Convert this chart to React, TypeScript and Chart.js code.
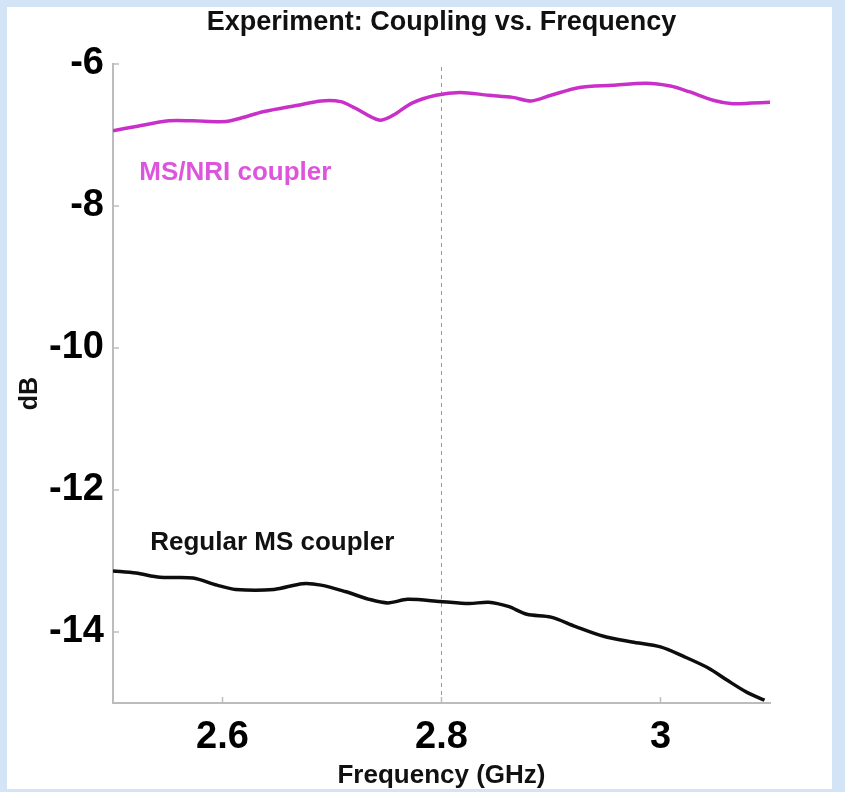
import React, { useEffect, useRef } from "react";
import { Chart, registerables } from "chart.js";

Chart.register(...registerables);

// ---- data ----
const msNriFreq = [2.500, 2.521, 2.551, 2.573, 2.603, 2.617, 2.638, 2.669, 2.690, 2.708, 2.721, 2.743, 2.756, 2.773, 2.795, 2.817, 2.843, 2.865, 2.882, 2.900, 2.926, 2.956, 2.987, 3.009, 3.026, 3.048, 3.066, 3.083, 3.100];
const msNriDb = [-6.94, -6.88, -6.80, -6.80, -6.81, -6.76, -6.67, -6.58, -6.52, -6.53, -6.62, -6.79, -6.72, -6.55, -6.44, -6.40, -6.44, -6.47, -6.52, -6.44, -6.33, -6.30, -6.27, -6.31, -6.39, -6.51, -6.56, -6.55, -6.54];

const regularFreq = [2.500, 2.521, 2.543, 2.573, 2.595, 2.612, 2.647, 2.673, 2.690, 2.712, 2.734, 2.751, 2.769, 2.799, 2.825, 2.843, 2.861, 2.878, 2.900, 2.922, 2.948, 2.974, 3.000, 3.022, 3.044, 3.061, 3.079, 3.095];
const regularDb = [-13.14, -13.17, -13.23, -13.24, -13.34, -13.40, -13.40, -13.32, -13.34, -13.43, -13.54, -13.59, -13.54, -13.57, -13.60, -13.58, -13.64, -13.75, -13.79, -13.92, -14.06, -14.14, -14.21, -14.35, -14.51, -14.68, -14.85, -14.96];

const markerFreq = [2.8, 2.8];
const markerDb = [-15, -6];

const xTicks = [2.6, 2.8, 3.0];
const yTicks = [-14, -12, -10, -8, -6];

const curveLabelText = ["MS/NRI coupler", "Regular MS coupler"];
const curveLabelFreq = [2.524, 2.534];
const curveLabelDb = [-7.634, -12.845];
const curveLabelColor = ["#dd55dd", "#111111"];

const TITLE = "Experiment: Coupling vs. Frequency";
const X_TITLE = "Frequency (GHz)";
const Y_TITLE = "dB";

const SANS = "'Liberation Sans', Arial, Helvetica, sans-serif";
const AXIS_GREY = "#bcbcbc";

const toPts = (xs: number[], ys: number[]) => xs.map((x, i) => ({ x, y: ys[i] }));

const extrasPlugin = {
  id: "extras",
  afterDraw(chart: any) {
    const { ctx, scales, chartArea } = chart;
    const xs = scales.x;
    const ys = scales.y;
    ctx.save();
    // inward tick marks
    ctx.strokeStyle = AXIS_GREY;
    ctx.lineWidth = 1.5;
    const left = chartArea.left;
    const bottom = chartArea.bottom;
    yTicks.forEach((v) => {
      const py = ys.getPixelForValue(v);
      ctx.beginPath();
      ctx.moveTo(left, py);
      ctx.lineTo(left + 6, py);
      ctx.stroke();
    });
    xTicks.forEach((v) => {
      const px = xs.getPixelForValue(v);
      ctx.beginPath();
      ctx.moveTo(px, bottom);
      ctx.lineTo(px, bottom - 6);
      ctx.stroke();
    });
    // curve labels
    ctx.font = `bold 26px ${SANS}`;
    ctx.textAlign = "left";
    ctx.textBaseline = "alphabetic";
    curveLabelText.forEach((t, i) => {
      ctx.fillStyle = curveLabelColor[i];
      ctx.fillText(t, xs.getPixelForValue(curveLabelFreq[i]), ys.getPixelForValue(curveLabelDb[i]));
    });
    // title centred over the plot area
    ctx.fillStyle = "#111";
    ctx.font = `bold 27px ${SANS}`;
    ctx.textAlign = "center";
    ctx.textBaseline = "middle";
    ctx.fillText(TITLE, (chartArea.left + chartArea.right) / 2, 23);
    // y axis title
    ctx.save();
    ctx.translate(30, (chartArea.top + chartArea.bottom) / 2 + 10);
    ctx.rotate(-Math.PI / 2);
    ctx.font = `bold 25px ${SANS}`;
    ctx.fillText(Y_TITLE, 0, 0);
    ctx.restore();
    ctx.restore();
  },
};

export default function App() {
  const ref = useRef<HTMLCanvasElement | null>(null);

  useEffect(() => {
    if (!ref.current) return;
    const chart = new Chart(ref.current, {
      type: "line",
      data: {
        datasets: [
          {
            label: "MS/NRI coupler",
            data: toPts(msNriFreq, msNriDb),
            borderColor: "#c930c9",
            borderWidth: 3.5,
            pointRadius: 0,
            tension: 0.3,
          },
          {
            label: "Regular MS coupler",
            data: toPts(regularFreq, regularDb),
            borderColor: "#0d0d0d",
            borderWidth: 3.5,
            pointRadius: 0,
            tension: 0.3,
          },
          {
            label: "2.8 GHz",
            data: toPts(markerFreq, markerDb),
            borderColor: "#9a9a9a",
            borderWidth: 1,
            borderDash: [4, 4],
            pointRadius: 0,
          },
        ],
      },
      options: {
        animation: false,
        responsive: false,
        devicePixelRatio: 1,
        layout: { padding: { left: 0, right: 75, top: 64, bottom: 0 } },
        plugins: {
          legend: { display: false },
          tooltip: { enabled: false },
          title: { display: false },
        },
        scales: {
          x: {
            type: "linear",
            min: 2.5,
            max: 3.1,
            afterBuildTicks: (s: any) => {
              s.ticks = xTicks.map((v) => ({ value: v }));
            },
            afterFit: (s: any) => {
              s.height = 89;
            },
            ticks: {
              color: "#000",
              padding: 12,
              font: { family: SANS, size: 38, weight: "bold" },
              callback: (v: any) => String(Number(v)),
            },
            grid: { display: false, drawTicks: false },
            border: { display: true, color: AXIS_GREY, width: 2 },
            title: {
              display: true,
              text: X_TITLE,
              color: "#111",
              font: { family: SANS, size: 26, weight: "bold" },
              padding: { top: 0, bottom: 1 },
            },
          },
          y: {
            type: "linear",
            min: -15,
            max: -6,
            afterBuildTicks: (s: any) => {
              s.ticks = yTicks.map((v) => ({ value: v }));
            },
            afterFit: (s: any) => {
              s.width = 113;
            },
            ticks: {
              color: "#000",
              padding: 9,
              font: { family: SANS, size: 38, weight: "bold" },
              callback: (v: any) => String(Number(v)),
            },
            grid: { display: false, drawTicks: false },
            border: { display: true, color: AXIS_GREY, width: 2 },
            title: { display: false },
          },
        },
      },
      plugins: [extrasPlugin],
    });
    return () => chart.destroy();
  }, []);

  return (
    <div style={{ position: "fixed", left: 0, top: 0, width: 845, height: 792, background: "#d4e4f7", overflow: "hidden" }}>
      <div style={{ position: "absolute", left: 7, top: 7, width: 825, height: 782, background: "#ffffff" }} />
      <canvas ref={ref} width={845} height={792} style={{ position: "absolute", left: 0, top: 0, width: 845, height: 792 }} />
    </div>
  );
}
